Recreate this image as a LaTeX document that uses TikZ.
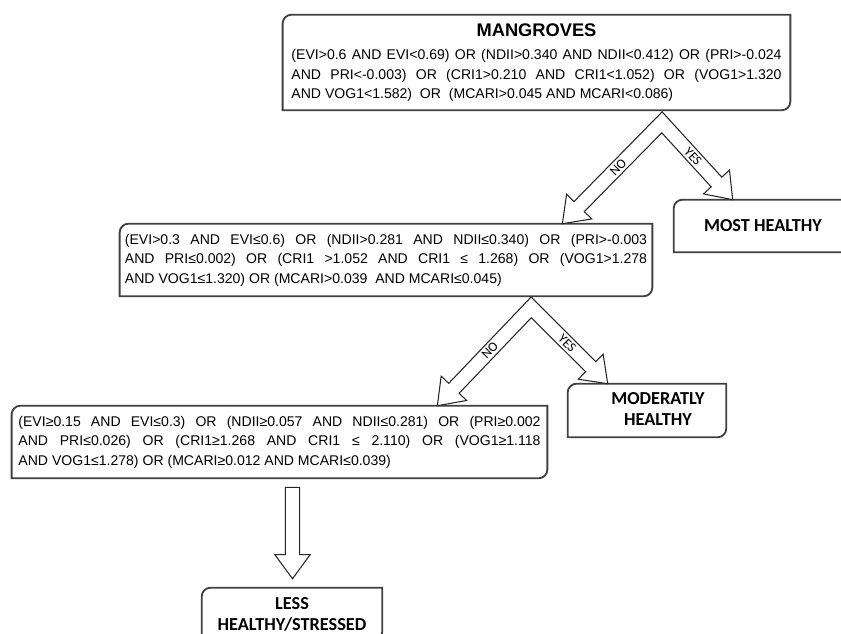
\documentclass[tikz,border=0pt]{standalone}
\usepackage{fontspec}
\setmainfont{Liberation Sans}
\newfontfamily\calfont{Carlito}
\usetikzlibrary{positioning,calc}

\newcommand{\crad}{0.22cm}
\newcommand{\shw}{0.18cm}
\newcommand{\hdw}{0.44cm}
\newcommand{\hdl}{0.6cm}

\tikzset{
	boxline/.style={draw=black!75, line width=1.3pt},
	blockline/.style={draw=black!85, line width=0.75pt, fill=white, line join=miter},
	condbox/.style={inner sep=0pt, font=\fontsize{10}{13.8}\selectfont},
	endbox/.style={inner sep=0pt, align=center, font=\calfont\bfseries\fontsize{13}{15}\selectfont},
	armlabel/.style={font=\calfont\fontsize{9.5}{10}\selectfont, sloped, inner sep=0pt},
}

% box with round top-left and bottom-right corners
\newcommand{\diagbox}[1]{%
	\draw[boxline] (#1.south west) -- ([yshift=-\crad]#1.north west)
		arc[start angle=180, end angle=90, radius=\crad] -- (#1.north east)
		-- ([yshift=\crad]#1.south east)
		arc[start angle=0, end angle=-90, radius=\crad] -- cycle;}

% straight block arrow from #1 to tip #2
\newcommand{\blockarrow}[2]{%
	\coordinate (hb) at ($(#2)!\hdl!(#1)$);
	\draw[blockline] ($(#1)!\shw!90:(#2)$) -- ($(hb)!\shw!90:(#2)$)
		-- ($(hb)!\hdw!90:(#2)$) -- (#2) -- ($(hb)!\hdw!-90:(#2)$)
		-- ($(hb)!\shw!-90:(#2)$) -- ($(#1)!\shw!-90:(#2)$) -- cycle;}

% forked block arrow: #1 fork, #2 left tip, #3 right tip, #4 prefix
\newcommand{\forkarrow}[4]{%
	\coordinate (#4hl) at ($(#2)!\hdl!(#1)$);
	\coordinate (#4hr) at ($(#3)!\hdl!(#1)$);
	\coordinate (#4oa) at ($(#1)!\shw!-90:(#2)$);
	\coordinate (#4ob) at ($(#4hl)!\shw!-90:(#2)$);
	\coordinate (#4oc) at ($(#1)!\shw!90:(#3)$);
	\coordinate (#4od) at ($(#4hr)!\shw!90:(#3)$);
	\coordinate (#4ia) at ($(#1)!\shw!90:(#2)$);
	\coordinate (#4ib) at ($(#4hl)!\shw!90:(#2)$);
	\coordinate (#4ic) at ($(#1)!\shw!-90:(#3)$);
	\coordinate (#4id) at ($(#4hr)!\shw!-90:(#3)$);
	\draw[blockline] (intersection of #4oa--#4ob and #4oc--#4od) -- (#4ob)
		-- ($(#4hl)!\hdw!-90:(#2)$) -- (#2) -- ($(#4hl)!\hdw!90:(#2)$) -- (#4ib)
		-- (intersection of #4ia--#4ib and #4ic--#4id) -- (#4id)
		-- ($(#4hr)!\hdw!-90:(#3)$) -- (#3) -- ($(#4hr)!\hdw!90:(#3)$) -- (#4od) -- cycle;}

\begin{document}
\begin{tikzpicture}[x=0.025cm, y=-0.025cm]
	\useasboundingbox (0,0) rectangle (841,633);
	\clip (0,0) rectangle (841,633);

	% condition boxes
	\node[condbox, minimum width=12.675cm, minimum height=2.375cm] (root) at (536.5,62.5) {%
		\parbox{12.25cm}{{\centering\fontsize{13}{15}\selectfont\bfseries MANGROVES\par}\vspace{3pt}
		(EVI>0.6 AND EVI<0.69) OR (NDII>0.340 AND NDII<0.412) OR (PRI>-0.024\linebreak
		AND PRI<-0.003) OR (CRI1>0.210 AND CRI1<1.052) OR (VOG1>1.320\linebreak
		AND VOG1<1.582)\ \ OR\ \ (MCARI>0.045 AND MCARI<0.086)}};
	\node[condbox, minimum width=13.3cm, minimum height=1.8cm] (mid) at (386,260) {%
		\parbox{13.05cm}{(EVI>0.3 AND EVI≤0.6) OR (NDII>0.281 AND NDII≤0.340) OR (PRI>-0.003\linebreak
		AND PRI≤0.002) OR (CRI1 >1.052 AND CRI1 ≤ 1.268) OR (VOG1>1.278\linebreak
		AND VOG1≤1.320) OR (MCARI>0.039\ \ AND MCARI≤0.045)}};
	\node[condbox, minimum width=13.375cm, minimum height=1.8cm] (low) at (279.5,442) {%
		\parbox{13.05cm}{(EVI≥0.15 AND EVI≤0.3) OR (NDII≥0.057 AND NDII≤0.281) OR (PRI≥0.002\linebreak
		AND PRI≤0.026) OR (CRI1≥1.268 AND CRI1 ≤ 2.110) OR (VOG1≥1.118\linebreak
		AND VOG1≤1.278) OR (MCARI≥0.012 AND MCARI≤0.039)}};

	% outcome boxes
	\node[endbox, minimum width=4.45cm, minimum height=1.3cm] (most) at (763,226) {MOST HEALTHY};
	\node[endbox, minimum width=3.95cm, minimum height=1.325cm] (moder) at (647,410.5)
		{\hspace{0.55cm}\begin{tabular}{@{}c@{}}MODERATLY\\HEALTHY\end{tabular}};
	\node[endbox, minimum width=4.5cm, minimum height=1.3cm] (less) at (292,614) {LESS\\HEALTHY/STRESSED};

	\foreach \b in {root,mid,low,most,moder,less}
		\diagbox{\b};

	% arrows
	\coordinate (f1) at ($(root.south east)+(-128.5,12)$);
	\coordinate (no1) at ($(mid.north east)+(-90,0)$);
	\coordinate (yes1) at ($(most.north west)+(59,0)$);
	\coordinate (f2) at ($(mid.south west)+(411.5,11)$);
	\coordinate (no2) at ($(low.north east)+(-110,0)$);
	\coordinate (yes2) at ($(moder.north west)+(40,0)$);
	\coordinate (dn) at ($(low.south)+(13,9)$);
	\coordinate (dt) at ($(less.north)+(0.5,-9)$);

	\forkarrow{f1}{no1}{yes1}{fa}
	\forkarrow{f2}{no2}{yes2}{fb}
	\blockarrow{dn}{dt}

	\path (f1) -- (no1) node[armlabel, pos=0.44] {NO};
	\path (f1) -- (yes1) node[armlabel, pos=0.44] {YES};
	\path (f2) -- (no2) node[armlabel, pos=0.44] {NO};
	\path (f2) -- (yes2) node[armlabel, pos=0.47] {YES};
\end{tikzpicture}
\end{document}
